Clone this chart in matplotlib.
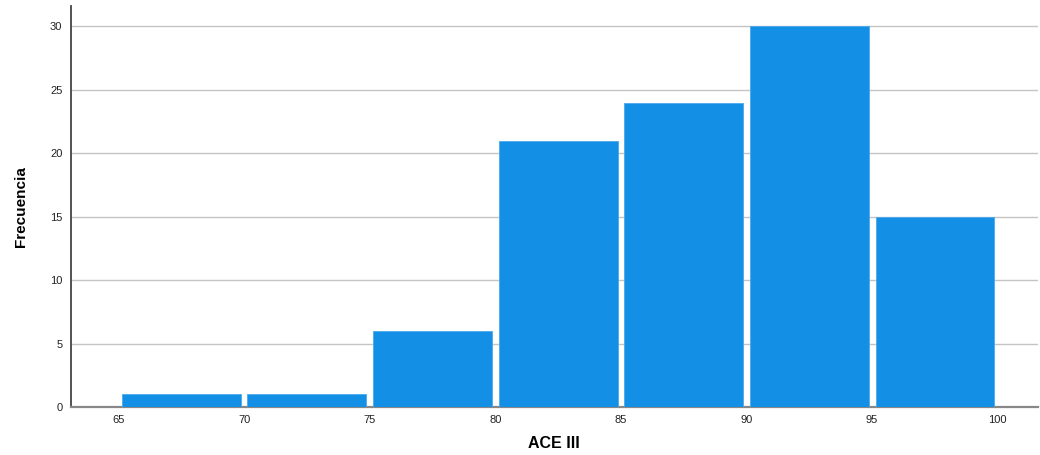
import numpy as np
import matplotlib.pyplot as plt

# --- データ ---
bin_edges = [65, 70, 75, 80, 85, 90, 95, 100]
counts = [1, 1, 6, 21, 24, 30, 15]
x_ticks = [65, 70, 75, 80, 85, 90, 95, 100]
y_ticks = [0, 5, 10, 15, 20, 25, 30]

plt.rcParams['font.family'] = ['Liberation Sans', 'DejaVu Sans']

fig = plt.figure(figsize=(10.4, 4.55), dpi=100)
ax = fig.add_axes([0.068, 0.1055, 0.93, 0.881])

left = np.array(bin_edges[:-1])
width = np.diff(bin_edges)
gap = 0.27
ax.bar(left + gap / 2, counts, width=width - gap, align='edge',
       color='#1390e6', edgecolor='#4aa8ec', linewidth=0.6, zorder=3)

ax.set_xlim(63.1, 101.6)
ax.set_ylim(0, 31.6)
ax.set_xticks(x_ticks)
ax.set_yticks(y_ticks)
ax.tick_params(axis='both', length=0, labelsize=8, colors='#222222', pad=6)

ax.yaxis.grid(True, color='#c4c4c4', linewidth=1.0, zorder=0)
ax.set_axisbelow(True)

for s in ['top', 'right']:
    ax.spines[s].set_visible(False)
ax.spines['left'].set_color('#444444')
ax.spines['left'].set_linewidth(1.3)
ax.spines['bottom'].set_color('#888888')
ax.spines['bottom'].set_linewidth(1.6)

ax.set_xlabel('ACE III', fontsize=11.5, fontweight='bold', labelpad=8)
ax.set_ylabel('Frecuencia', fontsize=11, fontweight='bold', labelpad=16)

fig.savefig('out.png', dpi=100)
